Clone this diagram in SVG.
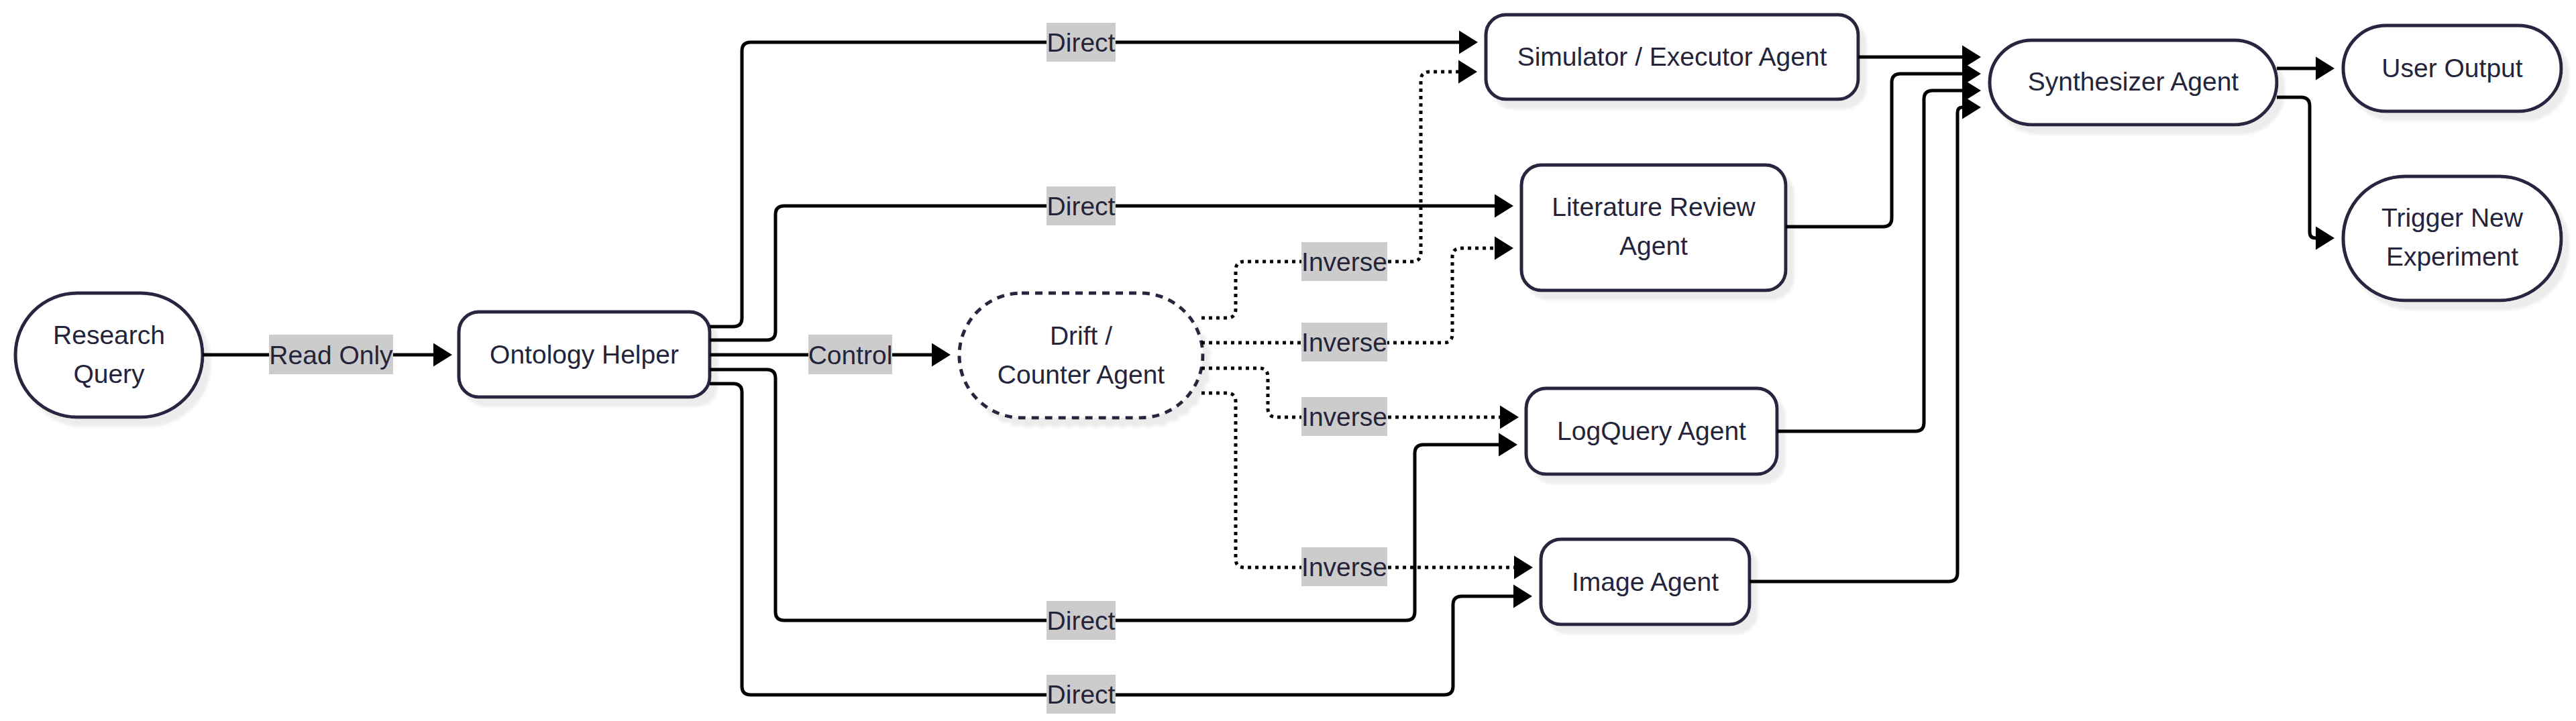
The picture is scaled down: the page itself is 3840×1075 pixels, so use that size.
<svg xmlns="http://www.w3.org/2000/svg" width="3840" height="1075" viewBox="0 0 3840 1075">
<style>
  .node rect { fill: #ffffff; stroke: #28283f; stroke-width: 5; filter: url(#shadow); }
  .node.dashed rect { stroke-dasharray: 11 9; }
  text { font-family: "Liberation Sans", Arial, sans-serif; font-size: 39px; fill: #24243a; text-anchor: middle; }
  .edge { fill: none; stroke: #000000; stroke-width: 5; marker-end: url(#arrow); }
  .dotted { stroke-dasharray: 5 6; }
  .lbl rect { fill: #cccccc; }
</style>
<defs>
  <filter id="shadow" x="-10%" y="-10%" width="130%" height="140%">
    <feDropShadow dx="10" dy="12" stdDeviation="2" flood-color="#ececec" flood-opacity="1"/>
  </filter>
  <marker id="arrow" markerUnits="userSpaceOnUse" markerWidth="29" markerHeight="36" refX="0" refY="17.5" orient="auto" overflow="visible">
    <path d="M0,0 L28,17.5 L0,35 Z" fill="#000000"/>
  </marker>
</defs>
<rect width="3840" height="1075" fill="#ffffff"/>

<g id="research-query" class="node"><rect x="23" y="437" width="279" height="185" rx="92" ry="92"/><text x="162.5" y="513">Research</text><text x="162.5" y="571">Query</text></g>
<g id="ontology-helper" class="node"><rect x="684" y="465" width="374" height="127" rx="30"/><text x="871" y="542">Ontology Helper</text></g>
<g id="drift-counter-agent" class="node dashed"><rect x="1430" y="437" width="363" height="186" rx="93" ry="93"/><text x="1611.5" y="514">Drift /</text><text x="1611.5" y="572">Counter Agent</text></g>
<g id="simulator-executor-agent" class="node"><rect x="2215" y="22" width="555" height="126" rx="30"/><text x="2492.5" y="98">Simulator / Executor Agent</text></g>
<g id="literature-review-agent" class="node"><rect x="2268" y="246" width="394" height="187" rx="30"/><text x="2465" y="322">Literature Review</text><text x="2465" y="380">Agent</text></g>
<g id="logquery-agent" class="node"><rect x="2275" y="579" width="374" height="128" rx="30"/><text x="2462" y="656">LogQuery Agent</text></g>
<g id="image-agent" class="node"><rect x="2297" y="804" width="311" height="127" rx="30"/><text x="2452.5" y="881">Image Agent</text></g>
<g id="synthesizer-agent" class="node"><rect x="2966" y="60" width="428" height="126" rx="63" ry="63"/><text x="3180" y="135">Synthesizer Agent</text></g>
<g id="user-output" class="node"><rect x="3493" y="38" width="325" height="128" rx="64" ry="64"/><text x="3655.5" y="115">User Output</text></g>
<g id="trigger-new-experiment" class="node"><rect x="3493" y="263" width="325" height="185" rx="92" ry="92"/><text x="3655.5" y="338">Trigger New</text><text x="3655.5" y="396">Experiment</text></g>

<g id="connectors">
  <path class="edge" d="M302,529 H646"/>
  <path class="edge" d="M1058,487 H1093 Q1106,487 1106,474 V76 Q1106,63 1119,63 H2175"/>
  <path class="edge" d="M1058,507 H1143 Q1156,507 1156,494 V320 Q1156,307 1169,307 H2228"/>
  <path class="edge" d="M1058,529 H1389"/>
  <path class="edge" d="M1058,551 H1143 Q1156,551 1156,564 V912 Q1156,925 1169,925 H2096 Q2109,925 2109,912 V676 Q2109,663 2122,663 H2234"/>
  <path class="edge" d="M1058,572 H1093 Q1106,572 1106,585 V1023 Q1106,1036 1119,1036 H2153 Q2166,1036 2166,1023 V902 Q2166,889 2179,889 H2256"/>
  <path class="edge dotted" d="M1791,474 H1829 Q1842,474 1842,461 V403 Q1842,390 1855,390 H2105 Q2118,390 2118,377 V120 Q2118,107 2131,107 H2174"/>
  <path class="edge dotted" d="M1791,511 H2152 Q2165,511 2165,498 V383 Q2165,370 2178,370 H2228"/>
  <path class="edge dotted" d="M1791,549 H1877 Q1890,549 1890,562 V609 Q1890,622 1903,622 H2236"/>
  <path class="edge dotted" d="M1791,586 H1829 Q1842,586 1842,599 V833 Q1842,846 1855,846 H2257"/>
  <path class="edge" d="M2770,85 H2925"/>
  <path class="edge" d="M2662,338 H2807 Q2820,338 2820,325 V123 Q2820,110 2833,110 H2925"/>
  <path class="edge" d="M2649,643 H2855 Q2868,643 2868,630 V148 Q2868,135 2881,135 H2925"/>
  <path class="edge" d="M2608,867 H2905 Q2918,867 2918,854 V168 Q2918,160 2925,160"/>
  <path class="edge" d="M3394,102 H3452"/>
  <path class="edge" d="M3394,145 H3430 Q3443,145 3443,158 V346 Q3443,355 3452,355"/>
</g>

<g id="edge-labels">
  <g class="lbl"><rect x="401" y="499" width="185" height="59"/><text x="493.5" y="543">Read Only</text></g>
  <g class="lbl"><rect x="1560" y="34" width="103" height="58"/><text x="1611.5" y="77">Direct</text></g>
  <g class="lbl"><rect x="1560" y="278" width="103" height="58"/><text x="1611.5" y="321">Direct</text></g>
  <g class="lbl"><rect x="1205" y="499" width="125" height="59"/><text x="1267.5" y="543">Control</text></g>
  <g class="lbl"><rect x="1560" y="896" width="103" height="58"/><text x="1611.5" y="939">Direct</text></g>
  <g class="lbl"><rect x="1560" y="1006" width="103" height="58"/><text x="1611.5" y="1049">Direct</text></g>
  <g class="lbl"><rect x="1940" y="361" width="128" height="58"/><text x="2004" y="404">Inverse</text></g>
  <g class="lbl"><rect x="1940" y="481" width="128" height="58"/><text x="2004" y="524">Inverse</text></g>
  <g class="lbl"><rect x="1940" y="592" width="128" height="58"/><text x="2004" y="635">Inverse</text></g>
  <g class="lbl"><rect x="1940" y="816" width="128" height="58"/><text x="2004" y="859">Inverse</text></g>
</g>
</svg>
